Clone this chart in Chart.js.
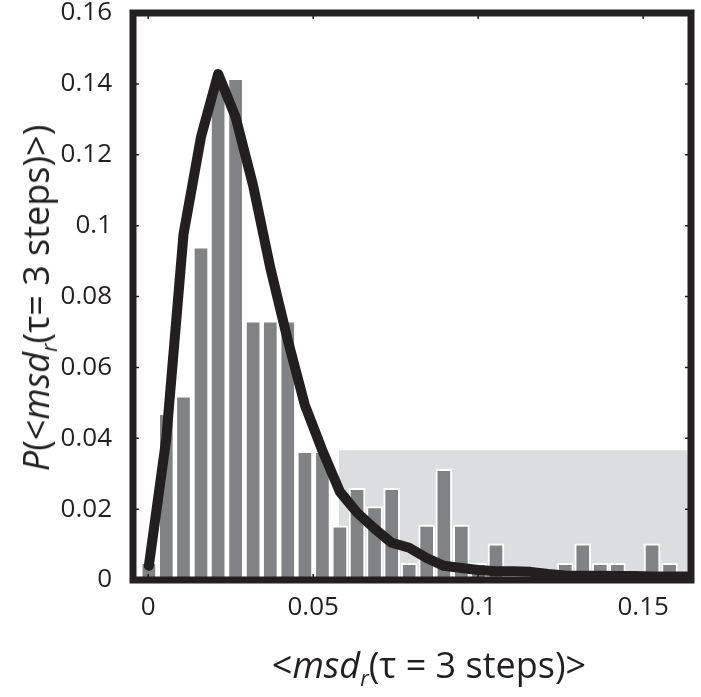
<!DOCTYPE html>
<html>
<head>
<meta charset="utf-8">
<script src="https://cdn.jsdelivr.net/npm/chart.js@4.4.0/dist/chart.umd.min.js"></script>
<style>
  body { margin: 0; background: #fff; }
  #wrap { position: relative; width: 701px; height: 697px; }
  .ttl {
    position: absolute;
    font-family: "Open Sans", sans-serif;
    font-size: 36px;
    color: #231f20;
    white-space: nowrap;
    line-height: 1;
    transform: translate(-50%, -50%);
  }
  .ttl sub { font-size: 0.6em; vertical-align: -0.35em; line-height: 0; }
  #xtitle { left: 429px; top: 665px; }
  #ytitle { left: 36px; top: 298px; transform: translate(-50%, -50%) rotate(-90deg); }
</style>
</head>
<body>
<div id="wrap">
  <canvas id="chart" width="701" height="697"></canvas>
  <div class="ttl" id="xtitle">&lt;<i>msd<sub>r</sub></i>(τ = 3 steps)&gt;</div>
  <div class="ttl" id="ytitle"><i>P</i>(&lt;<i>msd<sub>r</sub></i>(τ= 3 steps)&gt;)</div>
</div>
<script>
// histogram bins (centres) and heights
const binCenters = [0.0002, 0.0055, 0.0107, 0.0160, 0.0212, 0.0265, 0.0318, 0.0370,
  0.0423, 0.0475, 0.0528, 0.0581, 0.0633, 0.0686, 0.0738, 0.0791,
  0.0844, 0.0896, 0.0949, 0.1001, 0.1054, 0.1107, 0.1159, 0.1212,
  0.1264, 0.1317, 0.1370, 0.1422, 0.1475, 0.1527, 0.1580, 0.1633];
const barValues = [0.005, 0.047, 0.052, 0.094, 0.141, 0.1416, 0.0731, 0.0731,
  0.0731, 0.0363, 0.0363, 0.0153, 0.0259, 0.0207, 0.0259, 0.0047,
  0.0155, 0.0312, 0.0155, 0.0047, 0.0102, 0, 0, 0,
  0.0047, 0.0102, 0.0047, 0.0047, 0, 0.0102, 0.0047, 0];
// fitted curve, same x positions
const curveValues = [0.004, 0.04, 0.0975, 0.125, 0.1428, 0.1306, 0.1113, 0.0881,
  0.0677, 0.0493, 0.0365, 0.0249, 0.019, 0.0145, 0.0105, 0.0091,
  0.0062, 0.004, 0.0034, 0.0028, 0.0025, 0.0025, 0.0023, 0.0017,
  0.0013, 0.0012, 0.0012, 0.0011, 0.0011, 0.001, 0.001, 0.001];

const xTicks = [0, 0.05, 0.1, 0.15];
const xTickLabels = ["0", "0.05", "0.1", "0.15"];
const yTicks = [0, 0.02, 0.04, 0.06, 0.08, 0.1, 0.12, 0.14, 0.16];
const yTickLabels = ["0", "0.02", "0.04", "0.06", "0.08", "0.1", "0.12", "0.14", "0.16"];
const xRange = [-0.0046, 0.1645];
const yRange = [0, 0.16];

// light grey box behind the tail
const shadeRange = [0.0578, 0.1645];
const shadeTop = 0.0366;

const ink = "#231f20";

const shadePlugin = {
  id: "shade",
  beforeDatasetsDraw(chart) {
    const x = chart.scales.x, y = chart.scales.y, ctx = chart.ctx;
    const x0 = x.getPixelForValue(shadeRange[0]);
    const x1 = x.getPixelForValue(shadeRange[1]);
    const y0 = y.getPixelForValue(shadeTop);
    const y1 = y.getPixelForValue(0);
    ctx.save();
    ctx.fillStyle = "#dcdde0";
    ctx.fillRect(x0, y0, x1 - x0, y1 - y0);
    ctx.restore();
  }
};

const framePlugin = {
  id: "frame",
  afterDraw(chart) {
    const a = chart.chartArea, ctx = chart.ctx;
    const x = chart.scales.x, y = chart.scales.y;
    ctx.save();
    ctx.strokeStyle = ink;
    ctx.lineWidth = 1.5;
    ctx.beginPath();
    xTicks.forEach(v => {
      const px = x.getPixelForValue(v);
      ctx.moveTo(px, a.top); ctx.lineTo(px, a.top + 6);
      ctx.moveTo(px, a.bottom); ctx.lineTo(px, a.bottom - 6);
    });
    yTicks.forEach(v => {
      const py = y.getPixelForValue(v);
      ctx.moveTo(a.left, py); ctx.lineTo(a.left + 6, py);
      ctx.moveTo(a.right, py); ctx.lineTo(a.right - 6, py);
    });
    ctx.stroke();
    ctx.lineWidth = 7;
    ctx.strokeRect(a.left, a.top, a.right - a.left, a.bottom - a.top);
    ctx.restore();
  }
};

new Chart(document.getElementById("chart"), {
  type: "bar",
  data: {
    datasets: [
      {
        type: "line",
        data: binCenters.map((x, i) => ({ x: x, y: curveValues[i] })),
        borderColor: ink,
        borderWidth: 10,
        borderJoinStyle: "round",
        borderCapStyle: "round",
        pointRadius: 0,
        tension: 0,
        order: 0
      },
      {
        type: "bar",
        data: binCenters.map((x, i) => ({ x: x, y: barValues[i] })),
        backgroundColor: "#808285",
        borderColor: "#ffffff",
        borderWidth: 2,
        barThickness: 16,
        order: 1
      }
    ]
  },
  options: {
    responsive: false,
    devicePixelRatio: 1,
    animation: false,
    layout: { padding: { left: 0, top: 13, right: 10, bottom: 0 } },
    plugins: { legend: { display: false }, tooltip: { enabled: false } },
    scales: {
      x: {
        type: "linear",
        offset: false,
        min: xRange[0],
        max: xRange[1],
        grid: { display: false },
        border: { display: false },
        afterBuildTicks: s => { s.ticks = xTicks.map(v => ({ value: v })); },
        afterFit: s => { s.height = 117; s.paddingLeft = 0; s.paddingRight = 0; },
        ticks: {
          padding: 4,
          color: ink,
          font: { family: "Open Sans", size: 26 },
          maxRotation: 0,
          callback: v => xTickLabels[xTicks.indexOf(v)]
        }
      },
      y: {
        min: yRange[0],
        max: yRange[1],
        grid: { display: false },
        border: { display: false },
        afterBuildTicks: s => { s.ticks = yTicks.map(v => ({ value: v })); },
        afterFit: s => { s.width = 133; s.paddingTop = 0; s.paddingBottom = 0; },
        ticks: {
          padding: 13,
          color: ink,
          font: { family: "Open Sans", size: 26 },
          callback: v => yTickLabels[yTicks.indexOf(v)]
        }
      }
    }
  },
  plugins: [shadePlugin, framePlugin]
});
</script>
</body>
</html>
